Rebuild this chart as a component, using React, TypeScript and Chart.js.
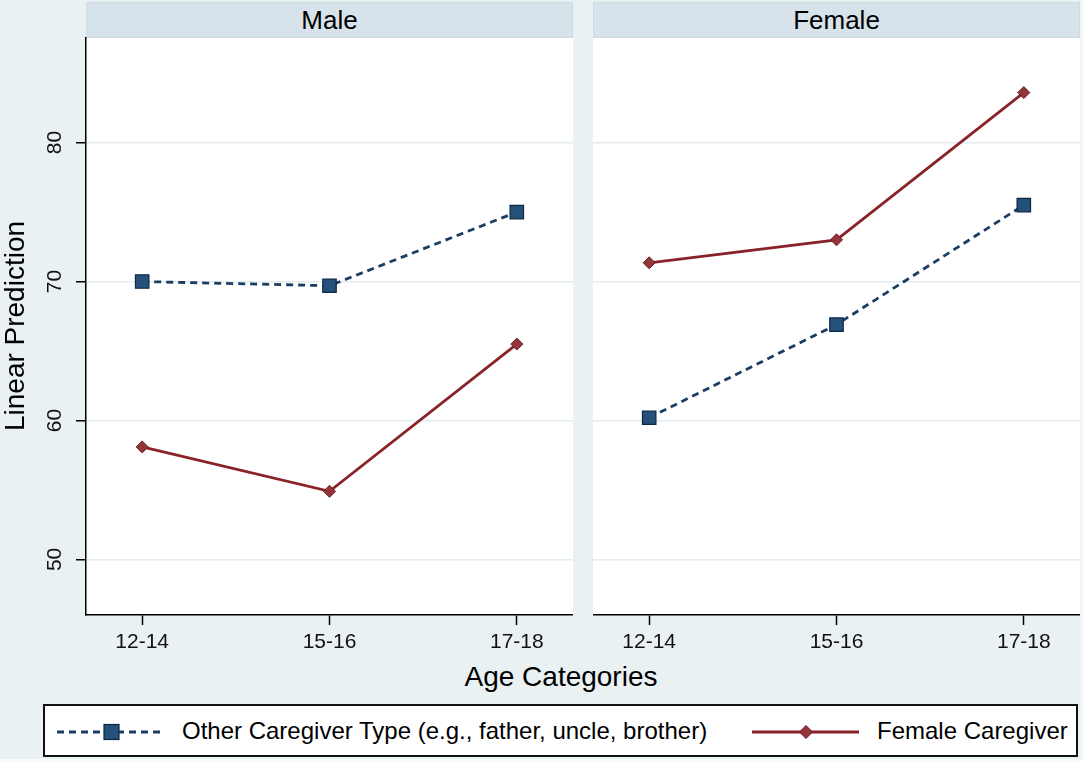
import { useEffect, useRef } from 'react';
import { Chart, registerables } from 'chart.js';

Chart.register(...registerables);

const ageCategories = ['12-14', '15-16', '17-18'];
const yTickValues = [50, 60, 70, 80];
const panelTitles = ['Male', 'Female'];
const seriesLabels = ['Other Caregiver Type (e.g., father, uncle, brother)', 'Female Caregiver'];

// linear predictions
const maleOther = [70.0, 69.7, 75.0];
const maleFemaleCg = [58.1, 54.9, 65.5];
const femaleOther = [60.2, 66.9, 75.5];
const femaleFemaleCg = [71.35, 73.0, 83.6];

const FONT = "'Liberation Sans', Arial, sans-serif";
const NAVY = '#1a3d63';
const NAVY_FILL = '#24507a';
const MAROON = '#8a2329';
const MAROON_FILL = '#93363c';
const BG = '#e9f1f3';
const BAND = '#d6e3ea';
const GRID = '#e3ecef';

// stata-style vertical tick labels, placed with the y scale
const rotatedYLabels = {
  id: 'rotatedYLabels',
  afterDraw(chart: Chart) {
    const y = chart.scales.y;
    const ctx = chart.ctx;
    ctx.save();
    ctx.font = `21px ${FONT}`;
    ctx.fillStyle = '#111';
    ctx.textAlign = 'center';
    ctx.textBaseline = 'middle';
    yTickValues.forEach((v) => {
      const py = y.getPixelForValue(v);
      ctx.save();
      ctx.translate(y.right - 31, py);
      ctx.rotate(-Math.PI / 2);
      ctx.fillText(String(v), 0, 0);
      ctx.restore();
    });
    ctx.restore();
  }
};

const noPadding = (scale: any) => {
  scale.paddingTop = 0;
  scale.paddingBottom = 0;
  scale.paddingLeft = 0;
  scale.paddingRight = 0;
};

type PanelProps = {
  other: number[];
  femaleCg: number[];
  showYAxis: boolean;
  left: number;
  width: number;
};

function Panel({ other, femaleCg, showYAxis, left, width }: PanelProps) {
  const chartRef = useRef<HTMLCanvasElement>(null);
  const chartInstance = useRef<Chart | null>(null);

  useEffect(() => {
    if (!chartRef.current) return;
    const ctx = chartRef.current.getContext('2d');
    if (!ctx) return;

    if (chartInstance.current) {
      chartInstance.current.destroy();
      chartInstance.current = null;
    }

    const toPoints = (vals: number[]) => ageCategories.map((_, i) => ({ x: i, y: vals[i] }));

    chartInstance.current = new Chart(ctx, {
      type: 'line',
      data: {
        datasets: [
          {
            label: seriesLabels[0],
            data: toPoints(other),
            borderColor: NAVY,
            borderWidth: 2.8,
            borderDash: [7, 5],
            pointStyle: 'rect',
            pointRadius: 9.5,
            pointBackgroundColor: NAVY_FILL,
            pointBorderColor: '#0e2844',
            pointBorderWidth: 1.2,
            tension: 0
          },
          {
            label: seriesLabels[1],
            data: toPoints(femaleCg),
            borderColor: MAROON,
            borderWidth: 2.8,
            pointStyle: 'rectRot',
            pointRadius: 6,
            pointBackgroundColor: MAROON_FILL,
            pointBorderColor: '#6e1a1f',
            pointBorderWidth: 1,
            tension: 0
          }
        ]
      },
      plugins: showYAxis ? [rotatedYLabels] : [],
      options: {
        animation: false,
        responsive: true,
        maintainAspectRatio: false,
        layout: { padding: 0, autoPadding: false },
        plugins: {
          legend: { display: false },
          tooltip: { enabled: false }
        },
        scales: {
          x: {
            type: 'linear',
            min: -0.3,
            max: 2.3,
            afterBuildTicks: (scale) => {
              scale.ticks = ageCategories.map((_, i) => ({ value: i }));
            },
            afterFit: (scale) => {
              scale.height = 45;
              noPadding(scale);
            },
            border: { display: true, color: '#000', width: 1.5 },
            grid: {
              drawOnChartArea: false,
              drawTicks: true,
              tickLength: 10,
              tickColor: '#000',
              tickWidth: 1.5
            },
            ticks: {
              padding: 5,
              color: '#111',
              font: { family: FONT, size: 21 },
              callback: (value) => ageCategories[Number(value)] ?? ''
            }
          },
          y: {
            min: 46,
            max: 87.6,
            afterBuildTicks: (scale) => {
              scale.ticks = yTickValues.map((v) => ({ value: v }));
            },
            afterFit: (scale) => {
              scale.width = showYAxis ? 86 : 0;
              noPadding(scale);
            },
            border: { display: showYAxis, color: '#000', width: 1.5 },
            grid: {
              color: GRID,
              lineWidth: 1.5,
              drawTicks: showYAxis,
              tickLength: 10,
              tickColor: '#000',
              tickWidth: 1.5
            },
            ticks: { display: false }
          }
        }
      }
    });

    return () => {
      if (chartInstance.current) {
        chartInstance.current.destroy();
        chartInstance.current = null;
      }
    };
  }, [other, femaleCg, showYAxis]);

  return (
    <div style={{ position: 'absolute', left, top: 37, width, height: 623 }}>
      <canvas ref={chartRef}></canvas>
    </div>
  );
}

function LegendKey({ dashed }: { dashed: boolean }) {
  return dashed ? (
    <svg width="110" height="20" style={{ position: 'absolute', left: 12, top: 16 }}>
      <line x1="0" y1="10" x2="105" y2="10" stroke={NAVY} strokeWidth="2.8" strokeDasharray="7 5" />
      <rect x="47" y="2.5" width="15" height="15" fill={NAVY_FILL} stroke="#0e2844" strokeWidth="1.2" />
    </svg>
  ) : (
    <svg width="110" height="20" style={{ position: 'absolute', left: 707, top: 16 }}>
      <line x1="0" y1="10" x2="107" y2="10" stroke={MAROON} strokeWidth="2.8" />
      <polygon points="54,3.5 60.5,10 54,16.5 47.5,10" fill={MAROON_FILL} stroke="#6e1a1f" strokeWidth="1" />
    </svg>
  );
}

export default function App() {
  const bandStyle = (left: number, width: number): React.CSSProperties => ({
    position: 'absolute',
    left,
    top: 2,
    width: width - 2,
    height: 34,
    background: BAND,
    border: '1px solid #cddce3',
    fontFamily: FONT,
    fontSize: 26,
    lineHeight: '34px',
    textAlign: 'center',
    color: '#000'
  });

  const legendText: React.CSSProperties = {
    position: 'absolute',
    top: 0,
    height: 49,
    lineHeight: '49px',
    fontFamily: FONT,
    fontSize: 24,
    color: '#000',
    whiteSpace: 'nowrap'
  };

  return (
    <div style={{ position: 'fixed', left: 0, top: 0, width: 1084, height: 761, background: '#f7fafb', overflow: 'hidden' }}>
      <div style={{ position: 'absolute', left: 0, top: 0, width: 1081, height: 759, background: BG }}>
        <div style={{ position: 'absolute', left: 86, top: 37, width: 487, height: 578, background: '#fff' }} />
        <div style={{ position: 'absolute', left: 593, top: 37, width: 487, height: 578, background: '#fff' }} />
        <div style={bandStyle(86, 487)}>{panelTitles[0]}</div>
        <div style={bandStyle(593, 487)}>{panelTitles[1]}</div>

        <Panel other={maleOther} femaleCg={maleFemaleCg} showYAxis={true} left={0} width={573} />
        <Panel other={femaleOther} femaleCg={femaleFemaleCg} showYAxis={false} left={593} width={487} />

        <div
          style={{
            position: 'absolute',
            left: 15 - 200,
            top: 326 - 16,
            width: 400,
            height: 32,
            lineHeight: '32px',
            textAlign: 'center',
            transform: 'rotate(-90deg)',
            fontFamily: FONT,
            fontSize: 28,
            color: '#000'
          }}
        >
          Linear Prediction
        </div>

        <div
          style={{
            position: 'absolute',
            left: 561 - 200,
            top: 677 - 16,
            width: 400,
            height: 32,
            lineHeight: '32px',
            textAlign: 'center',
            fontFamily: FONT,
            fontSize: 28,
            color: '#000'
          }}
        >
          Age Categories
        </div>

        <div
          style={{
            position: 'absolute',
            left: 43,
            top: 704,
            width: 1031,
            height: 49,
            border: '2px solid #111',
            background: '#fff'
          }}
        >
          <LegendKey dashed={true} />
          <span style={{ ...legendText, left: 137 }}>{seriesLabels[0]}</span>
          <LegendKey dashed={false} />
          <span style={{ ...legendText, left: 832 }}>{seriesLabels[1]}</span>
        </div>
      </div>
    </div>
  );
}
